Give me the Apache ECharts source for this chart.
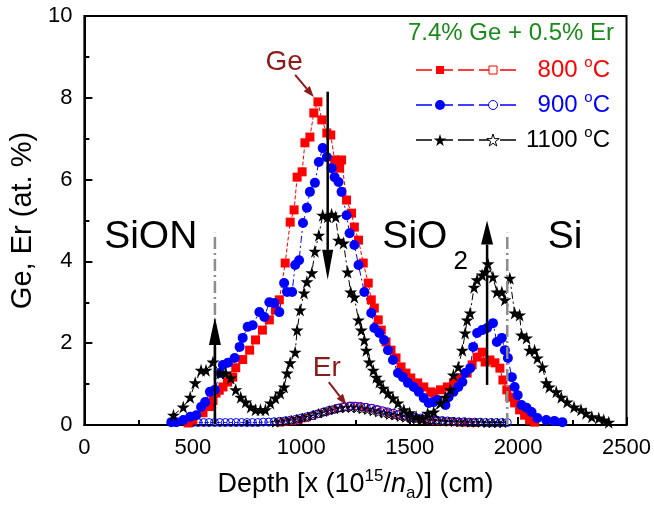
<!DOCTYPE html>
<html lang="en">
<head>
    <meta charset="utf-8"/>
    <title>Ge, Er depth profiles</title>
    <script type="text/javascript" src="https://cdn.jsdelivr.net/npm/echarts@6/dist/echarts.min.js"></script>
</head>
<body style="margin: 0;">
<div id="chart" style="width: 654px;height: 507px;"></div>

<script type="text/javascript">
    const FONT = 'Arial, "Liberation Sans", sans-serif';
    const STAR = 'M50,0L61,35L98,35L68,57L79,91L50,70L21,91L32,57L2,35L39,35Z';
    const STAR_PTS = [[50, 0], [61, 35], [98, 35], [68, 57], [79, 91], [50, 70], [21, 91], [32, 57], [2, 35], [39, 35]];

    // [depth, at.%]  Ge profiles (filled symbols)
    const ge800 = [
        [479, .05], [500, .12], [547, .3], [579, .45], [593, .6], [607, .78], [622, .85], [639, .93], [660, 1.05],
        [684, 1.17], [698, 1.4], [730, 1.6], [762, 1.83], [789, 2.08], [821, 2.32], [853, 2.57], [881, 2.81],
        [899, 3.06], [926, 3.96], [949, 4.96], [967, 5.26], [981, 6.06], [1004, 6.19], [1017, 6.9], [1040, 7.04],
        [1058, 7.63], [1077, 7.9], [1095, 7.46], [1118, 7.14], [1136, 7.09], [1154, 6.48], [1177, 6.28],
        [1186, 6.48], [1209, 5.5], [1232, 5.18], [1245, 4.84], [1264, 4.52], [1286, 3.96], [1309, 3.47],
        [1323, 3.06], [1337, 2.86], [1355, 2.57], [1369, 2.32], [1391, 2.03], [1414, 1.83], [1437, 1.64],
        [1460, 1.42], [1483, 1.27], [1505, 1.15], [1537, 1.03], [1565, .93], [1597, .81], [1611, .78],
        [1642, .86], [1674, .93], [1702, 1.03], [1734, 1.15], [1765, 1.27], [1788, 1.47], [1811, 1.66],
        [1834, 1.78], [1848, 1.54], [1870, 1.59], [1893, 1.52], [1916, 1.39], [1930, 1.1], [1948, .86],
        [1962, .68], [1984, .54], [2007, .37], [2030, .24], [2053, .12], [2076, .07]
    ];
    const ge900 = [
        [401, .07], [424, .07], [456, .12], [488, .2], [516, .24], [538, .44], [557, .56], [579, .81], [602, .86],
        [625, 1.27], [639, 1.47], [662, 1.52], [693, 1.64], [716, 1.91], [730, 2.13], [753, 2.4], [776, 2.44],
        [807, 2.76], [830, 2.64], [853, 3.0], [876, 2.98], [899, 2.76], [921, 3.47], [935, 3.25], [958, 3.25],
        [972, 3.91], [990, 4.03], [1008, 4.94], [1026, 5.31], [1040, 5.7], [1063, 5.92], [1081, 6.43],
        [1099, 6.77], [1118, 6.55], [1140, 6.28], [1154, 6.06], [1172, 5.94], [1186, 5.7], [1209, 5.13],
        [1223, 4.69], [1245, 4.4], [1264, 3.91], [1291, 3.25], [1323, 2.74], [1337, 2.37], [1360, 2.25],
        [1382, 2.08], [1400, 1.83], [1423, 1.59], [1446, 1.27], [1469, 1.17], [1492, 1.03], [1519, .93],
        [1542, .81], [1565, .66], [1588, .54], [1610, .56], [1628, .61], [1665, .49], [1679, .68], [1702, .81],
        [1724, .93], [1743, 1.05], [1756, 1.27], [1779, 1.39], [1793, 1.91], [1811, 2.25], [1834, 2.32],
        [1857, 2.37], [1884, 2.49], [1902, 2.03], [1925, 2.13], [1939, 1.83], [1953, 1.64], [1971, 1.17],
        [1984, .93], [1998, .73], [2016, .49], [2039, .42], [2062, .32], [2089, .17], [2130, .12], [2167, .1],
        [2204, .07]
    ];
    const ge1100 = [
        [411, .24], [456, .44], [488, .68], [511, 1.03], [538, 1.34], [561, 1.34], [593, 1.54], [625, 1.27],
        [652, 1.27], [675, 1.15], [698, .86], [721, .68], [744, .56], [767, .44], [789, .37], [812, .37],
        [835, .37], [858, .54], [881, .66], [903, .78], [921, .93], [935, 1.27], [949, 1.52], [972, 1.78],
        [981, 2.32], [995, 2.81], [1013, 3.23], [1026, 3.5], [1049, 3.72], [1063, 4.25], [1081, 4.64],
        [1099, 5.13], [1122, 5.09], [1140, 5.15], [1159, 5.09], [1172, 4.52], [1195, 4.45], [1214, 3.74],
        [1228, 3.25], [1245, 3.13], [1264, 2.57], [1277, 2.32], [1291, 2.08], [1300, 1.83], [1314, 1.54],
        [1332, 1.34], [1346, 1.17], [1360, 1.05], [1378, .9], [1400, .78], [1423, .66], [1446, .54],
        [1473, .37], [1500, .3], [1530, .2], [1560, .15], [1583, .29], [1611, .32], [1642, .54], [1665, .68],
        [1688, .86], [1702, 1.22], [1724, 1.42], [1743, 1.83], [1756, 2.25], [1765, 2.57], [1779, 2.74],
        [1797, 3.37], [1811, 3.55], [1834, 3.67], [1848, 3.74], [1861, 3.94], [1884, 3.62], [1902, 3.25],
        [1925, 3.25], [1939, 3.06], [1962, 3.59], [1984, 2.74], [2007, 2.69], [2016, 2.2], [2039, 2.13],
        [2053, 1.83], [2076, 1.83], [2089, 1.64], [2112, 1.42], [2130, 1.03], [2144, .93], [2176, .81],
        [2199, .68], [2226, .56], [2258, .44], [2290, .37], [2313, .29], [2340, .2], [2372, .17], [2395, .12],
        [2418, .07]
    ];

    // Er profiles (open symbols)
    const er800 = [
        [900, .06], [930, .08], [960, .1], [990, .13], [1020, .17], [1050, .22], [1080, .27], [1110, .32],
        [1140, .37], [1170, .41], [1200, .45], [1230, .47], [1260, .46], [1290, .44], [1320, .41], [1350, .37],
        [1380, .33], [1410, .29], [1440, .25], [1470, .22], [1500, .19], [1530, .16], [1560, .14], [1590, .12],
        [1620, .1], [1650, .09], [1680, .08], [1710, .07], [1740, .06], [1770, .06], [1800, .05]
    ];
    const er900 = [
        [500, .06], [525, .06], [550, .06], [575, .06], [600, .06], [625, .06], [650, .06], [675, .06],
        [700, .06], [725, .06], [750, .06], [775, .06], [800, .06], [825, .07], [850, .07], [875, .08],
        [900, .09], [925, .1], [950, .12], [975, .14], [1000, .17], [1025, .2], [1050, .23], [1075, .27],
        [1100, .31], [1125, .35], [1150, .38], [1175, .42], [1200, .44], [1225, .46], [1250, .46], [1275, .45],
        [1300, .43], [1325, .41], [1350, .38], [1375, .35], [1400, .32], [1425, .29], [1450, .26], [1475, .24],
        [1500, .21], [1525, .19], [1550, .17], [1575, .15], [1600, .13], [1625, .12], [1650, .11], [1675, .1],
        [1700, .09], [1725, .08], [1750, .08], [1775, .07], [1800, .07], [1825, .07], [1850, .06], [1875, .06],
        [1900, .06], [1925, .06], [1950, .06]
    ];
    const er1100 = [
        [880, .06], [905, .08], [930, .1], [955, .12], [980, .15], [1005, .18], [1030, .21], [1055, .25],
        [1080, .29], [1105, .32], [1130, .36], [1155, .39], [1180, .41], [1205, .42], [1230, .42], [1255, .41],
        [1280, .39], [1305, .37], [1330, .34], [1355, .31], [1380, .28], [1405, .25], [1430, .23], [1455, .2],
        [1480, .18], [1505, .16], [1530, .14], [1555, .13], [1580, .12], [1605, .11], [1630, .1], [1655, .09],
        [1680, .08], [1705, .08], [1730, .07], [1755, .07], [1780, .06], [1805, .06], [1830, .06], [1855, .05],
        [1880, .05], [1905, .05], [1930, .05]
    ];

    const temps = ['800', '900', '1100'];
    const interfaces = [602, 1950];   // grey dash-dot lines
    const layers = [['SiON', 306], ['SiO', 1524], ['Si', 2217]];

    let chart = echarts.init(document.getElementById('chart'));

    const dashDot = [7, 3, 2, 3];
    function geSeries(name, data, color, symbol, size, lineType) {
        return {
            name: name, type: 'line', data: data, symbol: symbol, symbolSize: size,
            itemStyle: {color: color},
            lineStyle: {color: color, width: 1, type: lineType},
            emphasis: {disabled: true}
        };
    }
    function erSeries(name, data, color, symbol, size) {
        return {
            name: name, type: 'line', data: data, symbol: symbol, symbolSize: size,
            itemStyle: {color: 'rgba(0,0,0,0)', borderColor: color, borderWidth: 1},
            lineStyle: {color: color, width: 1, type: 'dashed'},
            emphasis: {disabled: true}
        };
    }

    chart.setOption({
        animation: false,
        backgroundColor: '#fff',
        textStyle: {fontFamily: FONT},
        grid: {left: 80, right: 26, top: 16, bottom: 82, show: true, borderColor: '#000', borderWidth: 2},
        xAxis: {
            type: 'value', min: 0, max: 2500, interval: 500,
            name: 'Depth [x (10{sup|15}/{it|n}{sub|a})] (cm)',
            nameLocation: 'middle', nameGap: 42,
            nameTextStyle: {
                fontSize: 27, color: '#000', fontFamily: FONT,
                rich: {
                    sup: {fontSize: 17, color: '#000', fontFamily: FONT, padding: [0, 0, 16, 0]},
                    sub: {fontSize: 17, color: '#000', fontFamily: FONT, padding: [18, 0, 0, 0]},
                    it: {fontSize: 27, color: '#000', fontFamily: FONT, fontStyle: 'italic'}
                }
            },
            axisLine: {lineStyle: {color: '#000', width: 2}},
            axisTick: {inside: true, length: 8, lineStyle: {width: 2}},
            minorTick: {show: true, splitNumber: 2, length: 5, lineStyle: {color: '#000', width: 2}},
            axisLabel: {
                fontSize: 22, color: '#000', margin: 12, fontFamily: FONT,
                formatter: function (v) { return String(v); }
            },
            splitLine: {show: false}
        },
        yAxis: {
            type: 'value', min: 0, max: 10, interval: 2,
            name: 'Ge, Er (at. %)',
            nameLocation: 'middle', nameGap: 42,
            nameTextStyle: {fontSize: 29, color: '#000', fontFamily: FONT},
            axisLine: {show: true, lineStyle: {color: '#000', width: 2}},
            axisTick: {show: true, inside: true, length: 8, lineStyle: {width: 2}},
            minorTick: {show: true, splitNumber: 2, length: 5, lineStyle: {color: '#000', width: 2}},
            axisLabel: {fontSize: 22, color: '#000', margin: 12, fontFamily: FONT},
            splitLine: {show: false}
        },
        series: [
            erSeries('Er 800', er800, '#ff0000', 'rect', 7),
            erSeries('Er 900', er900, '#0000ff', 'circle', 8),
            erSeries('Er 1100', er1100, '#000000', 'path://' + STAR, 9),
            geSeries('Ge 800', ge800, '#ff0000', 'rect', 9, 'dashed'),
            geSeries('Ge 900', ge900, '#0000ff', 'circle', 10, dashDot),
            geSeries('Ge 1100', ge1100, '#000000', 'path://' + STAR, 13, dashDot)
        ]
    });

    // annotations, placed in data coordinates
    function px(p) {
        return chart.convertToPixel({gridIndex: 0}, p);
    }
    function arrow(p0, p1, color, width, headLen, headW) {
        const a = px(p0), b = px(p1);
        const dx = b[0] - a[0], dy = b[1] - a[1], len = Math.hypot(dx, dy);
        const ux = dx / len, uy = dy / len;
        const bx = b[0] - ux * headLen, by = b[1] - uy * headLen;
        return [
            {type: 'line', z: 50, shape: {x1: a[0], y1: a[1], x2: bx, y2: by}, style: {stroke: color, lineWidth: width}},
            {
                type: 'polygon', z: 50,
                shape: {points: [[b[0], b[1]], [bx - uy * headW / 2, by + ux * headW / 2], [bx + uy * headW / 2, by - ux * headW / 2]]},
                style: {fill: color}
            }
        ];
    }
    function label(p, text, size, color) {
        const q = px(p);
        return {
            type: 'text', z: 50, x: q[0], y: q[1],
            style: {text: text, fontSize: size, fontFamily: FONT, fill: color, align: 'center', verticalAlign: 'middle'}
        };
    }
    function star(cx, cy, w, h) {
        return STAR_PTS.map(function (p) {
            return [cx - w / 2 + p[0] / 100 * w, cy - h / 2 + p[1] / 91 * h];
        });
    }

    const darkRed = '#8b1a1a';
    let graphics = [];
    interfaces.forEach(function (d) {
        const a = px([d, 0]), b = px([d, 4.7]);
        graphics.push({
            type: 'line', z: 40, shape: {x1: a[0], y1: a[1], x2: b[0], y2: b[1]},
            style: {stroke: '#8c8c8c', lineWidth: 2.5, lineDash: [12, 4, 2, 4]}
        });
    });
    graphics = graphics.concat(
        arrow([1122, 8.15], [1122, 3.55], '#000', 2.5, 30, 11),
        arrow([602, 0.02], [602, 2.64], '#000', 2.5, 28, 12),
        arrow([1857, 0.98], [1857, 5.0], '#000', 2.5, 24, 12),
        arrow([972, 8.56], [1058, 8.02], darkRed, 2, 11, 8),
        arrow([1127, 1.05], [1209, 0.49], darkRed, 2, 11, 8)
    );
    graphics.push(label([921, 8.88], 'Ge', 28, darkRed));
    graphics.push(label([1118, 1.39], 'Er', 28, darkRed));
    layers.forEach(function (l) {
        graphics.push(label([l[1], 4.6], l[0], 39, '#000'));
    });
    graphics.push(label([1735, 4.0], '2', 26, '#000'));

    // legend, top right of the plot
    const legendColors = ['#ff0000', '#0000ff', '#000000'];
    graphics.push({
        type: 'text', x: 614, y: 33,
        style: {text: '7.4% Ge + 0.5% Er', fontSize: 24, fontFamily: FONT, fill: '#1a8a1a', align: 'right', verticalAlign: 'middle'}
    });
    temps.forEach(function (t, i) {
        const y = 70 + i * 35, c = legendColors[i];
        graphics.push({type: 'line', shape: {x1: 416, y1: y, x2: 517, y2: y}, style: {stroke: c, lineWidth: 1.5, lineDash: [16, 5]}});
        if (i === 0) {
            graphics.push({type: 'rect', shape: {x: 436, y: y - 4, width: 8, height: 8}, style: {fill: c}});
            graphics.push({type: 'rect', shape: {x: 489, y: y - 4, width: 8, height: 8}, style: {fill: '#fff', stroke: c, lineWidth: 1}});
        } else if (i === 1) {
            graphics.push({type: 'circle', shape: {cx: 440, cy: y, r: 5}, style: {fill: c}});
            graphics.push({type: 'circle', shape: {cx: 493, cy: y, r: 4.5}, style: {fill: '#fff', stroke: c, lineWidth: 1}});
        } else {
            graphics.push({type: 'polygon', shape: {points: star(440, y, 13, 12)}, style: {fill: c}});
            graphics.push({type: 'polygon', shape: {points: star(493, y, 13, 12)}, style: {fill: '#fff', stroke: c, lineWidth: 1}});
        }
        graphics.push({
            type: 'text', x: 610, y: y,
            style: {
                text: t + ' {sup|o}C', fontSize: 24, fontFamily: FONT, fill: c, align: 'right', verticalAlign: 'middle',
                rich: {sup: {fontSize: 15, fontFamily: FONT, fill: c, padding: [0, 0, 14, 0]}}
            }
        });
    });

    chart.setOption({graphic: graphics});
</script>
</body>
</html>
